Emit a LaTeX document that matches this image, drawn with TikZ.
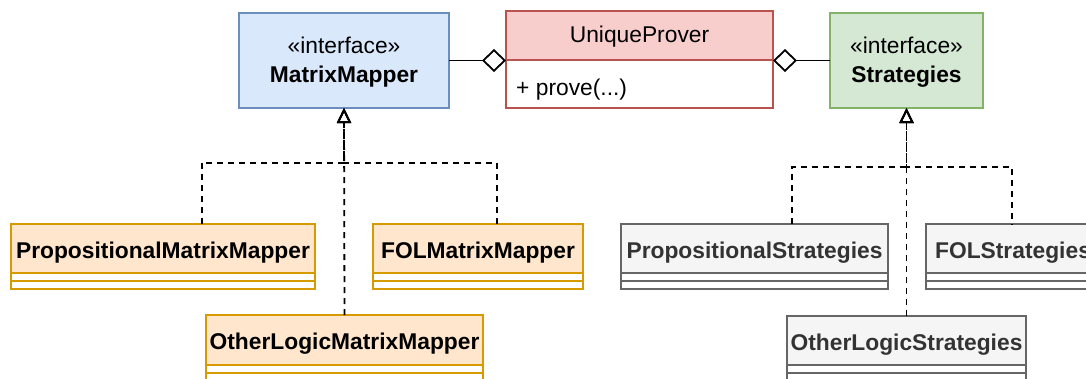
\documentclass[tikz,border=0pt]{standalone}
\usepackage{fontspec}
\setmainfont{Liberation Sans}
\usetikzlibrary{arrows.meta}
\definecolor{bluefill}{HTML}{DAE8FC}
\definecolor{bluestroke}{HTML}{6C8EBF}
\definecolor{redfill}{HTML}{F8CECC}
\definecolor{redstroke}{HTML}{B85450}
\definecolor{greenfill}{HTML}{D5E8D4}
\definecolor{greenstroke}{HTML}{82B366}
\definecolor{orangefill}{HTML}{FFE6CC}
\definecolor{orangestroke}{HTML}{D79B00}
\definecolor{grayfill}{HTML}{F5F5F5}
\definecolor{graystroke}{HTML}{666666}
\definecolor{graytext}{HTML}{333333}
\tikzset{
  boxbase/.style={draw, line width=1.8pt, outer sep=0pt, inner sep=0pt},
  fnt/.style={font=\fontsize{22.8}{27}\selectfont},
  bfnt/.style={font=\fontsize{22.8}{27}\selectfont\bfseries},
  ifacebox/.style={boxbase, minimum height=95pt},
  mmbox/.style={ifacebox, fill=bluefill, draw=bluestroke, minimum width=210pt},
  stbox/.style={ifacebox, fill=greenfill, draw=greenstroke, minimum width=153pt},
  headtext/.style={boxbase, bfnt, text height=20pt, text depth=1pt, minimum height=49pt},
  orangehead/.style={headtext, fill=orangefill, draw=orangestroke},
  grayhead/.style={headtext, fill=grayfill, draw=graystroke, text=graytext},
  orangecomp/.style={line width=1.8pt, draw=orangestroke, fill=white},
  graycomp/.style={line width=1.8pt, draw=graystroke, fill=white},
  lbl/.style={anchor=base, inner sep=0pt},
  agg/.style={draw, line width=1.8pt, -{Diamond[open, length=24pt, width=23pt]}},
  realiz/.style={draw, line width=1.8pt, dash pattern=on 6pt off 5pt,
    -{Triangle[open, length=15pt, width=14pt]}},
}
\begin{document}
\begin{tikzpicture}[x=1pt, y=-1pt]
\useasboundingbox (0,0) rectangle (1086,378);
\clip (0,0) rectangle (1086,378);

% MatrixMapper interface
\node[mmbox] (mm) at (344,60.5) {};
\node[lbl, fnt] (mmst) at (344,53) {«interface»};
\node[lbl, bfnt] (mmname) at (344,82) {MatrixMapper};

% UniqueProver
\node[boxbase, draw=redstroke, fill=white, minimum width=267pt, minimum height=97pt] (up) at (639.5,59.5) {};
\draw[line width=1.8pt, draw=redstroke, fill=redfill] (up.north west) rectangle ([yshift=-49pt]up.north east);
\node[lbl, fnt] (upname) at (639.5,42) {UniqueProver};
\node[lbl, fnt, anchor=base west] (upop) at (516,95) {+ prove(...)};

% Strategies interface
\node[stbox] (st) at (906.5,60.5) {};
\node[lbl, fnt] (stst) at (906.5,53) {«interface»};
\node[lbl, bfnt] (stname) at (906.5,82) {Strategies};

% Mapper implementations
\node[orangehead, minimum width=304.6pt] (pmm) at (163,248.5) {PropositionalMatrixMapper};
\draw[orangecomp] (pmm.south west) rectangle ([yshift=-8pt]pmm.south east);
\draw[orangecomp] ([yshift=-8pt]pmm.south west) rectangle ([yshift=-16pt]pmm.south east);

\node[orangehead, minimum width=210pt] (fmm) at (478,248.5) {FOLMatrixMapper};
\draw[orangecomp] (fmm.south west) rectangle ([yshift=-8pt]fmm.south east);
\draw[orangecomp] ([yshift=-8pt]fmm.south west) rectangle ([yshift=-16pt]fmm.south east);

\node[orangehead, minimum width=277pt, minimum height=50pt] (omm) at (344.5,340) {OtherLogicMatrixMapper};
\draw[orangecomp] (omm.south west) rectangle ([yshift=-8pt]omm.south east);
\draw[orangecomp] ([yshift=-8pt]omm.south west) rectangle ([yshift=-16pt]omm.south east);

% Strategy implementations
\node[grayhead, minimum width=267pt] (ps) at (754.5,248.5) {PropositionalStrategies};
\draw[graycomp] (ps.south west) rectangle ([yshift=-8pt]ps.south east);
\draw[graycomp] ([yshift=-8pt]ps.south west) rectangle ([yshift=-16pt]ps.south east);

\node[grayhead, minimum width=174pt] (fs) at (1013,248.5) {FOLStrategies};
\draw[graycomp] (fs.south west) rectangle ([yshift=-8pt]fs.south east);
\draw[graycomp] ([yshift=-8pt]fs.south west) rectangle ([yshift=-16pt]fs.south east);

\node[grayhead, minimum width=239pt] (os) at (906.5,340.5) {OtherLogicStrategies};
\draw[graycomp] (os.south west) rectangle ([yshift=-8pt]os.south east);
\draw[graycomp] ([yshift=-8pt]os.south west) rectangle ([yshift=-16pt]os.south east);

% aggregations
\draw[agg] (mm.east) -- (mm.east -| up.west);
\draw[agg] (st.west) -- (st.west -| up.east);

% realizations
\coordinate (mmj) at (344,162.7);
\coordinate (stj) at (906.5,166.7);
\draw[realiz] ([xshift=38.7pt]pmm.north) |- (mmj) -- (mm.south);
\draw[realiz] ([xshift=19pt]fmm.north) |- (mmj) -- (mm.south);
\draw[realiz] (omm.north) -- (mm.south);
\draw[realiz] ([xshift=37.5pt]ps.north) |- (stj) -- (st.south);
\draw[realiz, dash phase=5.7pt] ([xshift=-1.3pt]fs.north) |- (stj) -- (st.south);
\draw[realiz] (os.north) -- (st.south);
\end{tikzpicture}
\end{document}
